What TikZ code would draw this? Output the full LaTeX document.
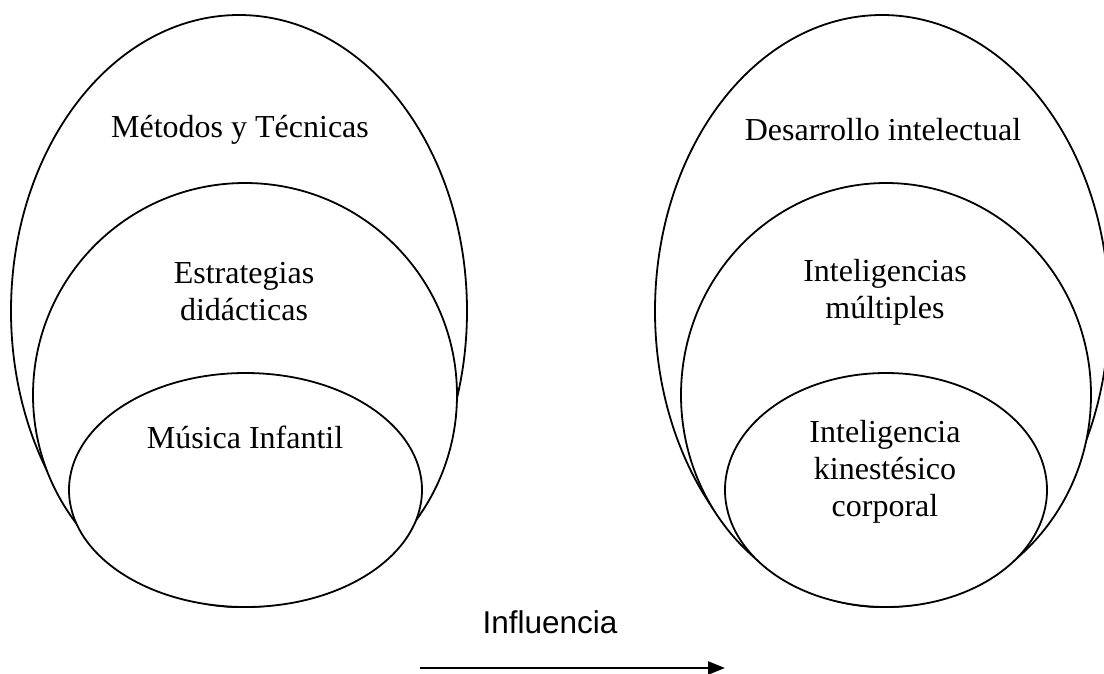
\documentclass[tikz,border=0pt]{standalone}
\usepackage{fontspec}
\setmainfont{Liberation Serif}
\newfontfamily\arialfont{Liberation Sans}
\usetikzlibrary{shapes.geometric,arrows.meta}
\begin{document}
\begin{tikzpicture}[x=1pt,y=-1pt,
  ring/.style={ellipse, draw=black, fill=white, line width=1.8pt, inner sep=0pt},
  lbl/.style={font=\fontsize{32}{37}\selectfont, align=center, inner sep=0pt},
  slbl/.style={font=\arialfont\fontsize{31.5}{36}\selectfont, inner sep=0pt},
  flow/.style={line width=2.4pt, -{Triangle[length=17pt,width=13pt]}}]
\useasboundingbox (0,0) rectangle (1104,673);
\begin{scope}
\clip (0,0) rectangle (1104,673);
% left group
\node[ring, minimum width=456pt, minimum height=592pt] (outerL) at (239,311) {};
\node[ring, minimum width=424pt, minimum height=424pt] (midL) at (245,395) {};
\node[ring, minimum width=353pt, minimum height=234pt] (innerL) at (245.5,490) {};
% right group
\node[ring, minimum width=454pt, minimum height=592pt] (outerR) at (882,311) {};
\node[ring, minimum width=410pt, minimum height=424pt] (midR) at (886,395) {};
\node[ring, minimum width=322pt, minimum height=234pt] (innerR) at (886,490) {};
\end{scope}
% labels
\node[lbl] (tMet) at (240,130) {Métodos y Técnicas};
\node[lbl] (tEst) at (244,292) {Estrategias\\didácticas};
\node[lbl] (tMus) at (245,437) {Música Infantil};
\node[lbl] (tDes) at (883,130) {Desarrollo intelectual};
\node[lbl] (tInt) at (885,292) {Inteligencias\\múltiples};
\node[lbl] (tKin) at (885,472) {Inteligencia\\kinestésico\\corporal};
\node[slbl] (tInf) at (550,622) {Influencia};
% arrow
\coordinate (a1) at (420,668);
\coordinate (a2) at (725,668);
\draw[flow] (a1) -- (a2);
\end{tikzpicture}
\end{document}
